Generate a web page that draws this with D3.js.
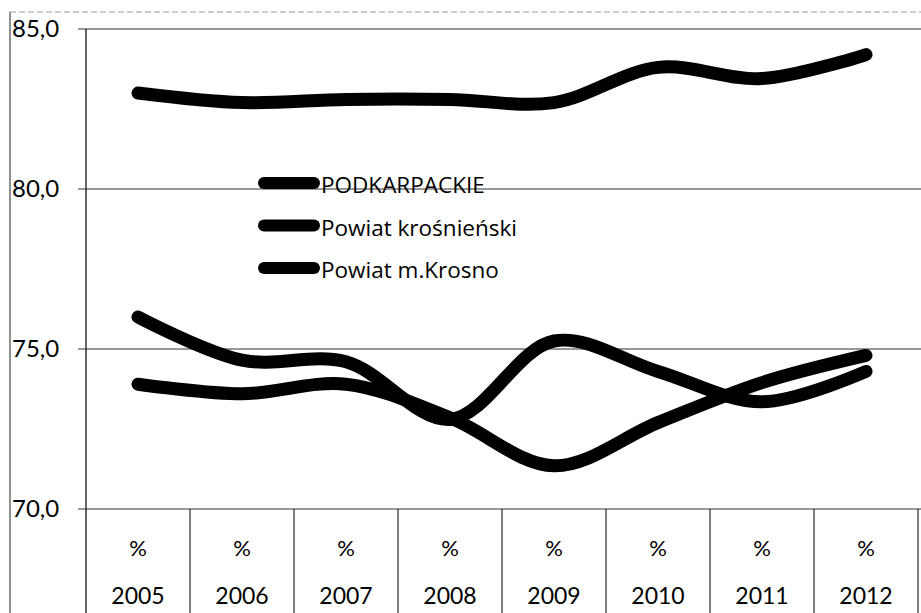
<!DOCTYPE html>
<html>
<head>
<meta charset="utf-8">
<script src="https://cdn.jsdelivr.net/npm/d3@7"></script>
<style>
  body { margin: 0; background: #fff; }
  svg { display: block; font-family: Lato, "Open Sans", sans-serif; }
</style>
</head>
<body>
<svg id="chart" width="921" height="613"></svg>
<script>
var years = ["2005", "2006", "2007", "2008", "2009", "2010", "2011", "2012"];
var yTicks = [70, 75, 80, 85];
var seriesNames = ["PODKARPACKIE", "Powiat krośnieński", "Powiat m.Krosno"];
var podkarpackie = [83.0, 82.7, 82.8, 82.8, 82.7, 83.8, 83.45, 84.2];
var powiatKrosnienski = [73.9, 73.6, 73.9, 72.85, 71.35, 72.7, 73.95, 74.8];
var powiatKrosno = [76.0, 74.65, 74.6, 72.8, 75.25, 74.3, 73.35, 74.3];

var series = [podkarpackie, powiatKrosnienski, powiatKrosno];

var width = 921, height = 613;
var svg = d3.select("#chart");

var x = d3.scaleBand().domain(years).range([86, 918]);
var y = d3.scaleLinear().domain([70, 85]).range([509, 29]);

// outer frame
svg.append("line").attr("x1", 10).attr("x2", 10).attr("y1", 12).attr("y2", height)
  .attr("stroke", "#222").attr("stroke-width", 1);
svg.append("line").attr("x1", 10).attr("x2", width).attr("y1", 12).attr("y2", 12)
  .attr("stroke", "#999").attr("stroke-width", 1).attr("stroke-dasharray", "6,3");

// gridlines + labels
svg.selectAll(".grid").data(yTicks).enter().append("line")
  .attr("x1", 78).attr("x2", width)
  .attr("y1", function(d) { return y(d); }).attr("y2", function(d) { return y(d); })
  .attr("stroke", "#333").attr("stroke-width", 1);

svg.selectAll(".ylab").data(yTicks).enter().append("text")
  .attr("x", 12).attr("y", function(d) { return y(d) + 8; })
  .attr("font-size", 24).attr("fill", "#000")
  .text(function(d) { return d3.format(".1f")(d).replace(".", ","); });

// y axis line
svg.append("line").attr("x1", 86).attr("x2", 86).attr("y1", 29).attr("y2", height)
  .attr("stroke", "#000").attr("stroke-width", 1.2);

// data table under the plot
svg.selectAll(".col").data(years).enter().append("line")
  .attr("x1", function(d) { return x(d) + x.bandwidth(); })
  .attr("x2", function(d) { return x(d) + x.bandwidth(); })
  .attr("y1", y(70)).attr("y2", height)
  .attr("stroke", "#000").attr("stroke-width", 1);

svg.selectAll(".pct").data(years).enter().append("text")
  .attr("x", function(d) { return x(d) + x.bandwidth() / 2; })
  .attr("y", 556).attr("text-anchor", "middle")
  .attr("font-size", 22).text("%");

svg.selectAll(".yr").data(years).enter().append("text")
  .attr("x", function(d) { return x(d) + x.bandwidth() / 2; })
  .attr("y", 604).attr("text-anchor", "middle")
  .attr("font-size", 23).text(function(d) { return d; });

// lines
var line = d3.line()
  .x(function(d, i) { return x(years[i]) + x.bandwidth() / 2; })
  .y(function(d) { return y(d); })
  .curve(d3.curveCatmullRom.alpha(0.5));

svg.selectAll(".series").data(series).enter().append("path")
  .attr("d", line)
  .attr("fill", "none").attr("stroke", "#000")
  .attr("stroke-width", 13).attr("stroke-linecap", "round").attr("stroke-linejoin", "round");

// legend
var leg = svg.selectAll(".leg").data(seriesNames).enter().append("g")
  .attr("transform", function(d, i) { return "translate(264," + (183 + i * 42.5) + ")"; });
leg.append("line").attr("x1", 0).attr("x2", 50).attr("y1", 0).attr("y2", 0)
  .attr("stroke", "#000").attr("stroke-width", 12).attr("stroke-linecap", "round");
leg.append("text").attr("x", 57).attr("y", 10)
  .attr("font-family", "'Open Sans', sans-serif")
  .attr("font-size", 22.5).attr("font-weight", 500)
  .text(function(d) { return d; });
</script>
</body>
</html>
